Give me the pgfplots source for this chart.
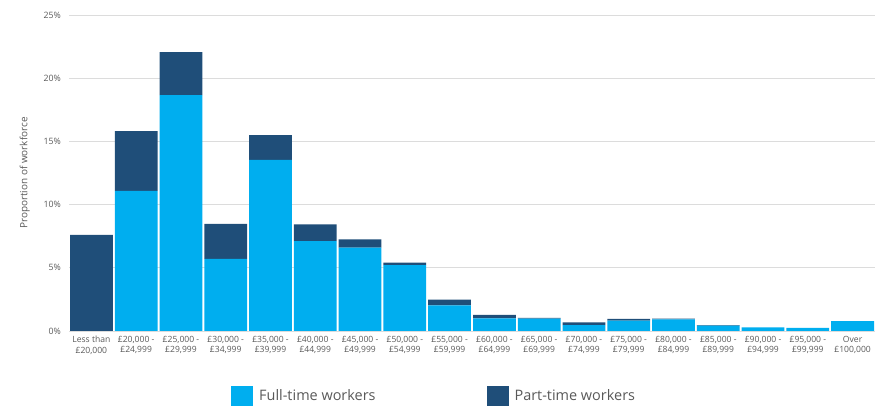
\documentclass[border=0pt]{standalone}
\usepackage{pgfplots}
\pgfplotsset{compat=1.18}
\usepackage{fontspec}
\setmainfont{Open Sans}
\definecolor{ft}{HTML}{00AEEF}
\definecolor{pt}{HTML}{1F4E79}
\definecolor{txt}{HTML}{595959}
\definecolor{grd}{HTML}{DCDCDC}
\begin{document}
\begin{tikzpicture}
\useasboundingbox (0,0) rectangle (875bp,406bp);
\begin{axis}[
  at={(69bp,75bp)}, anchor=south west,
  scale only axis, width=806bp, height=316bp,
  xmin=-0.5, xmax=17.5, ymin=0, ymax=25,
  ybar stacked, bar width=0.955,
  axis line style={draw=none},
  tick style={draw=none},
  ymajorgrids, grid style={grd, line width=0.8bp},
  ytick={0,5,10,15,20,25},
  yticklabels={0\%,5\%,10\%,15\%,20\%,25\%},
  yticklabel style={font=\fontsize{8.8}{10}\selectfont, text=txt, inner sep=0pt, xshift=-8bp},
  xtick={0,...,17},
  xticklabels={{Less than\\£20,000},{£20,000 -\\£24,999},{£25,000 -\\£29,999},{£30,000 -\\£34,999},{£35,000 -\\£39,999},{£40,000 -\\£44,999},{£45,000 -\\£49,999},{£50,000 -\\£54,999},{£55,000 -\\£59,999},{£60,000 -\\£64,999},{£65,000 -\\£69,999},{£70,000 -\\£74,999},{£75,000 -\\£79,999},{£80,000 -\\£84,999},{£85,000 -\\£89,999},{£90,000 -\\£94,999},{£95,000 -\\£99,999},{Over\\£100,000}},
  xticklabel style={font=\fontsize{8.6}{10.5}\selectfont, text=txt, align=center, inner sep=0pt, yshift=-5bp},
  ylabel={Proportion of workforce},
  ylabel style={font=\fontsize{10}{12}\selectfont, text=txt, at={(axis description cs:-0.055,0.5)}, anchor=center},
  legend columns=2,
  legend style={at={(0.201,0)}, anchor=north west, yshift=-55bp, draw=none, fill=none, inner sep=0pt,
    nodes={inner sep=0pt, text=txt, font=\fontsize{14.5}{16}\selectfont},
    /tikz/every odd column/.append style={column sep=6bp},
    /tikz/every even column/.append style={column sep=111bp}},
  legend image code/.code={\fill[#1] (0bp,-10bp) rectangle (22bp,10bp);},
]
\addplot[fill=ft, draw=none] coordinates {(0,0) (1,11.08) (2,18.67) (3,5.70) (4,13.53) (5,7.12) (6,6.59) (7,5.22) (8,2.03) (9,1.00) (10,0.97) (11,0.47) (12,0.82) (13,0.92) (14,0.42) (15,0.29) (16,0.24) (17,0.79)};
\addlegendentry{Full-time workers}
\addplot[fill=pt, draw=none] coordinates {(0,7.6) (1,4.74) (2,3.40) (3,2.77) (4,1.97) (5,1.32) (6,0.66) (7,0.19) (8,0.45) (9,0.27) (10,0.06) (11,0.22) (12,0.13) (13,0.05) (14,0.05) (15,0) (16,0) (17,0)};
\addlegendentry{Part-time workers}
\end{axis}
\end{tikzpicture}
\end{document}
